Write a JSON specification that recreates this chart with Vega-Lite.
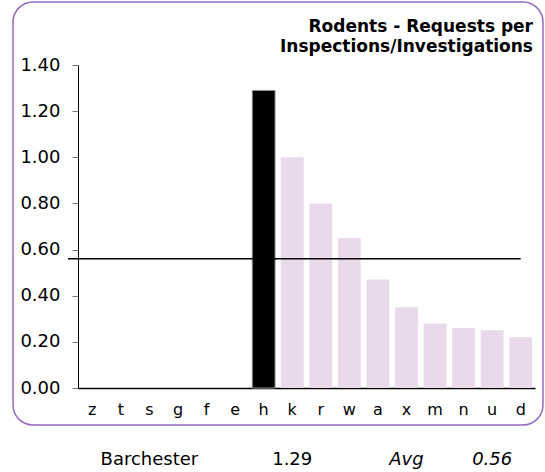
{
  "$schema": "https://vega.github.io/schema/vega-lite/v6.json",
  "width": 530,
  "height": 423,
  "autosize": {"type": "none"},
  "padding": {"left": 13, "top": 2, "right": 2, "bottom": 47},
  "background": "white",
  "config": {
    "view": {"stroke": "#9469c0", "strokeWidth": 1.5, "cornerRadius": 20},
    "font": "DejaVu Sans"
  },
  "title": {
    "text": ["Rodents - Requests per", "Inspections/Investigations"],
    "anchor": "end",
    "frame": "group",
    "align": "right",
    "offset": -54,
    "dx": -10,
    "fontSize": 17,
    "fontWeight": "bold",
    "font": "DejaVu Sans",
    "color": "black",
    "lineHeight": 20
  },
  "datasets": {
    "bars": [
      {"area": "z", "value": 0},
      {"area": "t", "value": 0},
      {"area": "s", "value": 0},
      {"area": "g", "value": 0},
      {"area": "f", "value": 0},
      {"area": "e", "value": 0},
      {"area": "h", "value": 1.29},
      {"area": "k", "value": 1.0},
      {"area": "r", "value": 0.8},
      {"area": "w", "value": 0.65},
      {"area": "a", "value": 0.47},
      {"area": "x", "value": 0.35},
      {"area": "m", "value": 0.28},
      {"area": "n", "value": 0.26},
      {"area": "u", "value": 0.25},
      {"area": "d", "value": 0.22}
    ],
    "summary": [
      {"name": "Barchester", "value": 1.29, "avg": 0.56}
    ]
  },
  "layer": [
    {
      "data": {"name": "bars"},
      "mark": {"type": "bar", "strokeWidth": 1},
      "encoding": {
        "x": {
          "field": "area",
          "type": "nominal",
          "scale": {
            "domain": ["z","t","s","g","f","e","h","k","r","w","a","x","m","n","u","d"],
            "range": [65, 522],
            "paddingInner": 0.2,
            "paddingOuter": 0.1
          },
          "axis": {
            "title": null,
            "orient": "bottom",
            "offset": -37,
            "domainColor": "black",
            "domainWidth": 1.5,
            "ticks": false,
            "labelAngle": 0,
            "labelFontSize": 16,
            "labelColor": "black",
            "labelPadding": 13,
            "labelFont": "DejaVu Sans"
          }
        },
        "y": {
          "field": "value",
          "type": "quantitative",
          "scale": {"domain": [0, 1.4], "range": [386, 63]},
          "axis": {
            "title": null,
            "values": [0, 0.2, 0.4, 0.6, 0.8, 1.0, 1.2, 1.4],
            "format": ".2f",
            "offset": -65,
            "grid": false,
            "domainColor": "black",
            "tickColor": "#777777",
            "tickSize": 6,
            "labelFontSize": 18,
            "labelColor": "black",
            "labelPadding": 12,
            "labelFont": "DejaVu Sans"
          }
        },
        "color": {
          "condition": {"test": "datum.area === 'h'", "value": "black"},
          "value": "#ead9ea"
        },
        "stroke": {
          "condition": {"test": "datum.area === 'h'", "value": "#999999"},
          "value": "transparent"
        }
      }
    },
    {
      "data": {"name": "summary"},
      "mark": {"type": "rule", "color": "black", "strokeWidth": 1.5},
      "encoding": {
        "x": {"datum": "z", "bandPosition": -0.56},
        "x2": {"datum": "d", "bandPosition": 0.5},
        "y": {"field": "avg", "type": "quantitative"}
      }
    },
    {
      "data": {"name": "summary"},
      "mark": {"type": "text", "fontSize": 18, "baseline": "alphabetic", "color": "black", "font": "DejaVu Sans"},
      "encoding": {
        "x": {"datum": "s"},
        "y": {"datum": -0.334},
        "text": {"field": "name"}
      }
    },
    {
      "data": {"name": "summary"},
      "mark": {"type": "text", "fontSize": 18, "baseline": "alphabetic", "color": "black", "font": "DejaVu Sans"},
      "encoding": {
        "x": {"datum": "k"},
        "y": {"datum": -0.334},
        "text": {"field": "value", "type": "quantitative", "format": ".2f"}
      }
    },
    {
      "data": {"name": "summary"},
      "mark": {"type": "text", "fontSize": 18, "fontStyle": "italic", "baseline": "alphabetic", "color": "black", "font": "DejaVu Sans"},
      "encoding": {
        "x": {"datum": "x"},
        "y": {"datum": -0.334},
        "text": {"value": "Avg"}
      }
    },
    {
      "data": {"name": "summary"},
      "mark": {"type": "text", "fontSize": 18, "fontStyle": "italic", "baseline": "alphabetic", "color": "black", "font": "DejaVu Sans"},
      "encoding": {
        "x": {"datum": "u"},
        "y": {"datum": -0.334},
        "text": {"field": "avg", "type": "quantitative", "format": ".2f"}
      }
    }
  ]
}
